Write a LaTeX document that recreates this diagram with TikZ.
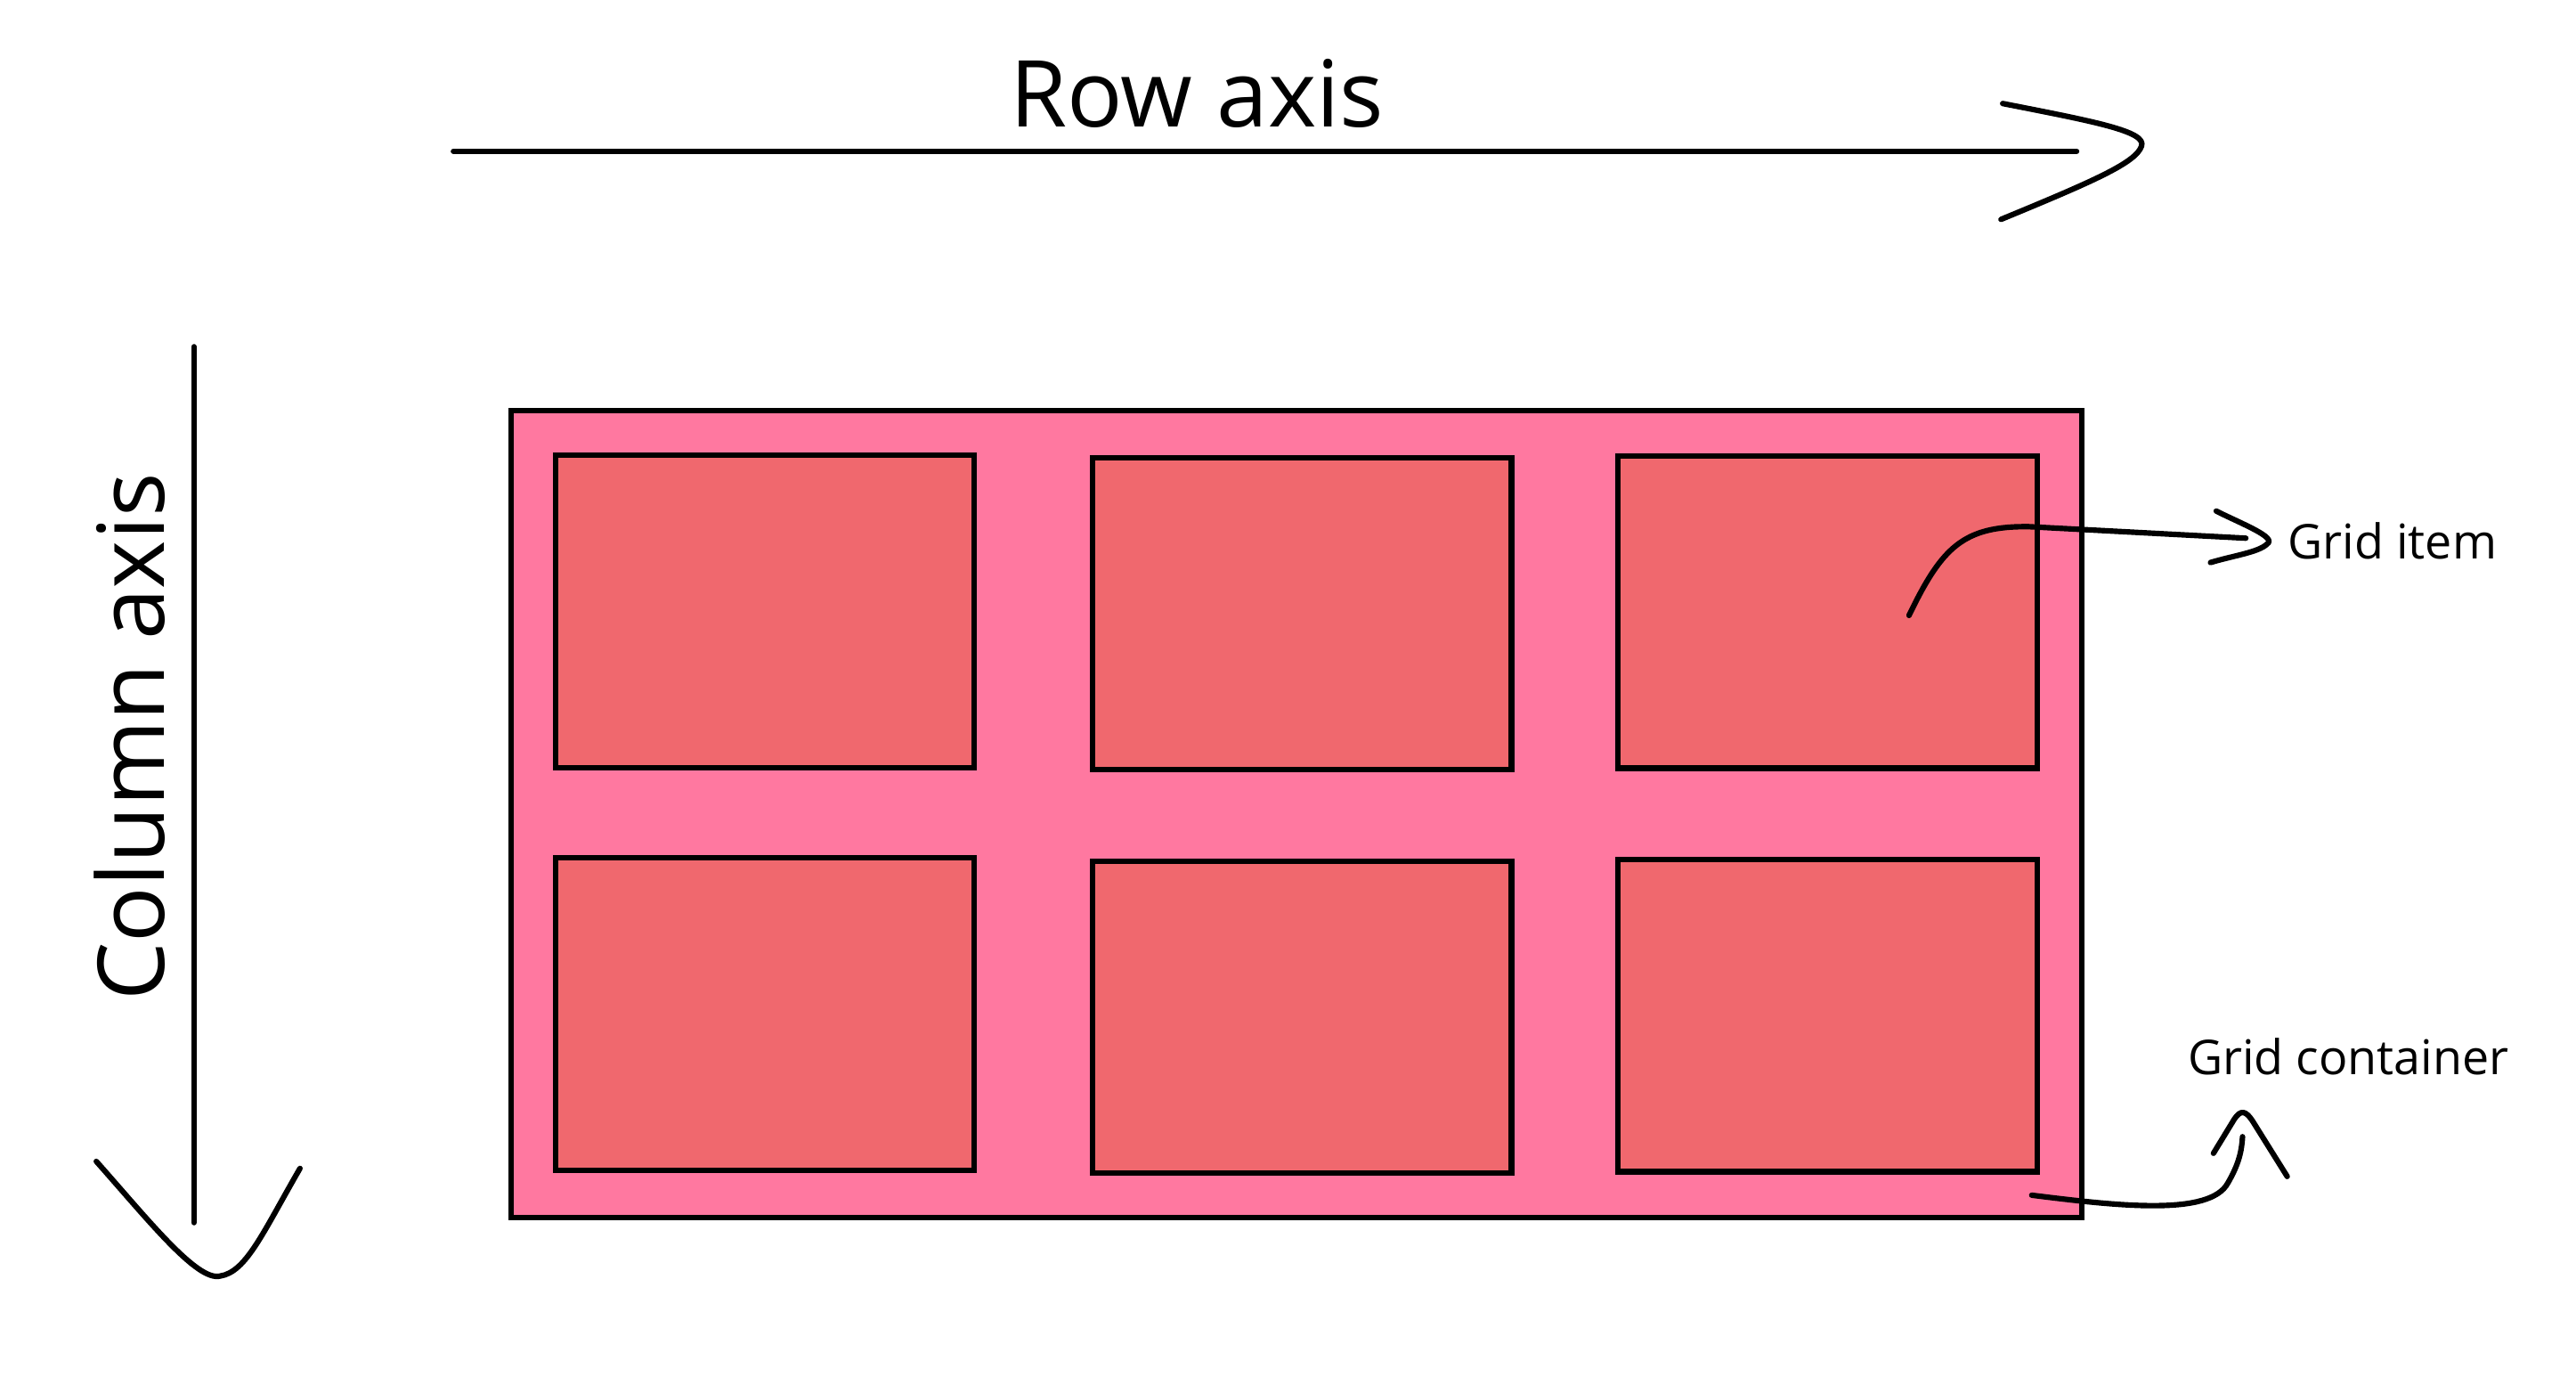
\documentclass[tikz,border=0pt]{standalone}
\usepackage{fontspec}
\setmainfont{Open Sans}
\usepackage{tikz}
\usetikzlibrary{positioning, calc}

\definecolor{contpink}{HTML}{FF78A0}
\definecolor{itemred}{HTML}{F0686E}

\begin{document}
\begin{tikzpicture}[
  contbox/.style={draw=black, line width=0.95pt, fill=contpink, inner sep=0pt,
                  minimum width=9.56cm, minimum height=4.91cm},
  itembox/.style={draw=black, line width=0.95pt, fill=itemred, inner sep=0pt,
                  minimum width=2.55cm, minimum height=1.90cm},
  axlbl/.style={font=\fontsize{16}{19}\selectfont, inner sep=0pt},
  smlbl/.style={font=\fontsize{8.3}{10}\selectfont, inner sep=0pt},
  hand/.style={line width=0.95pt, line cap=round, line join=round},
]
  \useasboundingbox (0,0) rectangle (15.68,-8.374);

  % Axes
  \node[axlbl, anchor=base] (rowlbl) at (7.285,-0.77) {Row axis};
  \coordinate (rowA) at (2.76,-0.92);
  \coordinate (rowB) at (12.64,-0.92);
  \draw[hand] (rowA) -- (rowB);
  \draw[hand] (12.19,-0.63) .. controls (12.75,-0.74) and (13.07,-0.80) .. (13.035,-0.89)
              .. controls (13.00,-0.99) and (12.75,-1.10) .. (12.18,-1.335);

  \node[axlbl, anchor=base, rotate=90] (collbl) at (1.00,-4.485) {Column axis};
  \coordinate (colA) at (1.18,-2.11);
  \coordinate (colB) at (1.18,-7.44);
  \draw[hand] (colA) -- (colB);
  \draw[hand] (0.586,-7.067) .. controls (0.90,-7.42) and (1.20,-7.80) .. (1.34,-7.765)
              .. controls (1.50,-7.74) and (1.60,-7.50) .. (1.826,-7.11);

  % Container and items
  \node[contbox] (cont) at (7.89,-4.955) {};
  \node[itembox] (i11) at (4.655,-3.72) {};
  \node[itembox] (i12) at (7.925,-3.735) {};
  \node[itembox] (i13) at (11.125,-3.725) {};
  \node[itembox] (i21) at (4.655,-6.17) {};
  \node[itembox] (i22) at (7.925,-6.19) {};
  \node[itembox] (i23) at (11.125,-6.18) {};

  % Callouts
  \node[smlbl, anchor=base west] (itemlbl) at (13.92,-3.40) {Grid item};
  \node[smlbl, anchor=base west] (contlbl) at (13.31,-6.54) {Grid container};

  \coordinate (itemtail) at (11.62,-3.745);
  \coordinate (itemtip) at (13.67,-3.275);
  \draw[hand] (itemtail) .. controls (11.82,-3.33) and (11.95,-3.20) .. (12.35,-3.205) -- (itemtip);
  \draw[hand] (13.49,-3.11) .. controls (13.65,-3.19) and (13.86,-3.27) .. (13.80,-3.31)
              .. controls (13.75,-3.36) and (13.60,-3.38) .. (13.455,-3.423);

  \coordinate (conttail) at (12.367,-7.273);
  \coordinate (conttip) at (13.65,-6.917);
  \draw[hand] (conttail) .. controls (12.90,-7.34) and (13.45,-7.40) .. (13.56,-7.20)
              .. controls (13.63,-7.08) and (13.645,-7.00) .. (conttip);
  \draw[hand] (13.473,-7.018) -- (13.60,-6.81) .. controls (13.64,-6.75) and (13.67,-6.76) .. (13.71,-6.82)
              -- (13.922,-7.159);
\end{tikzpicture}
\end{document}
